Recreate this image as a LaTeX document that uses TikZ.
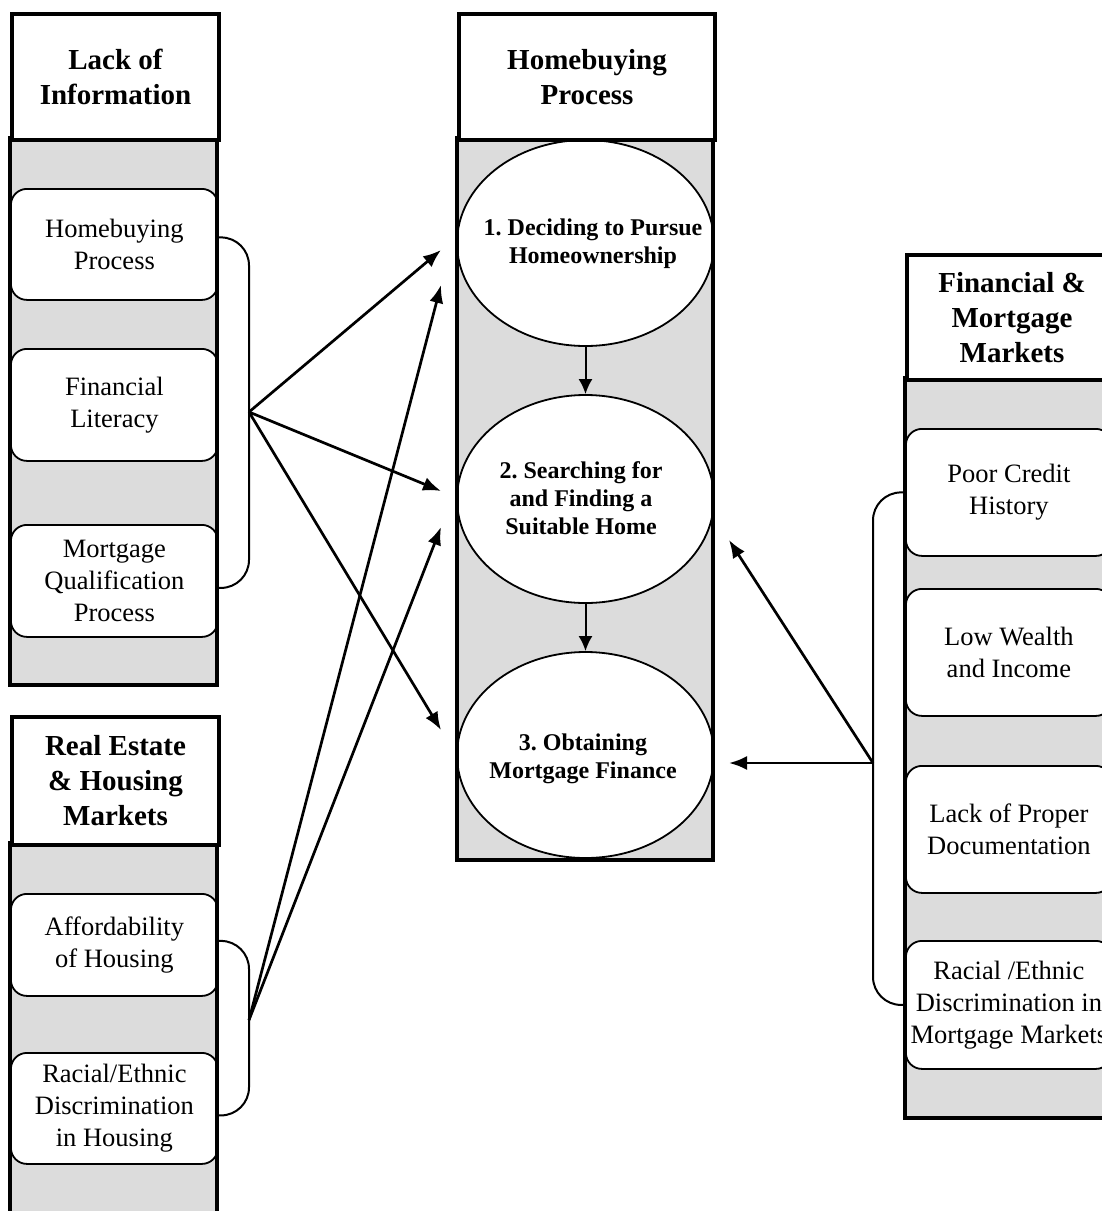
\documentclass[tikz,border=0pt]{standalone}
\usepackage{fontspec}
\setmainfont{Liberation Serif}
\usetikzlibrary{arrows.meta,shapes.geometric,calc}
\definecolor{boxgray}{RGB}{220,220,220}
\frenchspacing
\begin{document}
\begin{tikzpicture}[x=1pt,y=-1pt,
  frame/.style={draw=black, line width=4pt},
  hdr/.style={draw=black, line width=4pt, fill=white, anchor=north west, align=center,
    font=\fontsize{29}{35}\selectfont\bfseries, inner sep=0pt},
  body/.style={fill=boxgray, anchor=north west, inner sep=0pt},
  item/.style={draw=black, line width=1.8pt, fill=white, rounded corners=16pt, anchor=north west,
    align=center, font=\fontsize{26.5}{32}\selectfont, inner sep=0pt},
  stage/.style={ellipse, draw=black, line width=1.8pt, fill=white, inner sep=0pt, minimum width=257pt},
  stagetext/.style={align=center, font=\fontsize{24}{28}\selectfont\bfseries, inner sep=0pt},
  conn/.style={line width=2.7pt, -{Latex[length=18pt,width=14pt]}},
  flow/.style={line width=2pt, -{Latex[length=15pt,width=14pt]}},
  brace/.style={line width=2pt, rounded corners=28pt},
]
\useasboundingbox (0,0) rectangle (1102,1211);
\clip (0,0) rectangle (1102,1211);
\fill[white] (0,0) rectangle (1102,1211);

% ---------- Lack of Information ----------
\node[body, minimum width=207pt, minimum height=547pt] (b1) at (10,138) {};
\node[item, minimum width=207pt, minimum height=111pt] (i11) at (10,188) {Homebuying\\Process};
\node[item, minimum width=207pt, minimum height=112pt] (i12) at (10,348) {Financial\\Literacy};
\node[item, minimum width=207pt, minimum height=112pt] (i13) at (10,524) {Mortgage\\Qualification\\Process};
\draw[frame] (b1.north west) rectangle (b1.south east);
\node[hdr, minimum width=207pt, minimum height=126pt] (h1) at (10,12) {Lack of\\Information};

% ---------- Real Estate & Housing Markets ----------
\node[body, minimum width=207pt, minimum height=400pt] (b3) at (10,843) {};
\node[item, minimum width=207pt, minimum height=102pt] (i31) at (10,893) {Affordability\\of Housing};
\node[item, minimum width=207pt, minimum height=111pt] (i32) at (10,1052) {Racial/Ethnic\\Discrimination\\in Housing};
\draw[frame] (b3.north west) rectangle (b3.south east);
\node[hdr, minimum width=207pt, minimum height=128pt] (h3) at (10,715) {Real Estate\\\& Housing\\Markets};

% ---------- Homebuying Process ----------
\node[body, minimum width=256pt, minimum height=722pt] (b2) at (457,138) {};
\node[stage, minimum height=206pt] (e1) at (585.5,243) {};
\node[stage, minimum height=208pt] (e2) at (585.5,499) {};
\node[stage, minimum height=206pt] (e3) at (585.5,755) {};
\node[stagetext] (e1t) at (593,244) {1. Deciding to Pursue\\Homeownership};
\node[stagetext] (e2t) at (581,498) {2. Searching for\\and Finding a\\Suitable Home};
\node[stagetext] (e3t) at (583,759) {3. Obtaining\\Mortgage Finance};
\draw[frame] (b2.north west) rectangle (b2.south east);
\node[hdr, minimum width=256pt, minimum height=126pt] (h2) at (457,12) {Homebuying\\Process};
\draw[flow] (e1.south) -- (e2.north);
\draw[flow] (e2.south) -- (e3.north);

% ---------- Financial & Mortgage Markets ----------
\node[body, minimum width=210pt, minimum height=740pt] (b4) at (905,378) {};
\node[item, minimum width=206pt, minimum height=127pt] (i41) at (905,428) {Poor Credit\\History};
\node[item, minimum width=206pt, minimum height=127pt] (i42) at (905,588) {Low Wealth\\and Income};
\node[item, minimum width=206pt, minimum height=127pt] (i43) at (905,765) {Lack of Proper\\Documentation};
\node[item, minimum width=206pt, minimum height=128pt] (i44) at (905,940) {Racial /Ethnic\\Discrimination in\\Mortgage Markets};
\draw[frame] (b4.north west) rectangle (b4.south east);
\node[hdr, minimum width=210pt, minimum height=125pt] (h4) at (905,253) {Financial \&\\Mortgage\\Markets};

% ---------- brackets and junctions ----------
\coordinate (j1) at (249,412);
\coordinate (j2) at (249,1020);
\coordinate (j3) at (873,763);
\draw[brace] ($(i11.east)+(0,-7)$) -| (j1 |- {$(i13.east)+(0,7)$}) -- ($(i13.east)+(0,7)$);
\draw[brace] ($(i31.east)+(0,-4)$) -| (j2 |- {$(i32.east)+(0,7)$}) -- ($(i32.east)+(0,7)$);
\draw[brace] (i41.west) -| (j3 |- i44.west) -- (i44.west);

% ---------- arrow tips ----------
\coordinate (t11) at (441,250);
\coordinate (t12) at (441,491);
\coordinate (t13) at (441,730);
\coordinate (t21) at (441,285);
\coordinate (t22) at (441,527);
\coordinate (t31) at (729,540);
\coordinate (t32) at (729,763);

\draw[conn] (j1) -- (t11);
\draw[conn] (j1) -- (t12);
\draw[conn] (j1) -- (t13);
\draw[conn] (j2) -- (t21);
\draw[conn] (j2) -- (t22);
\draw[conn] (j3) -- (t31);
\draw[conn] (j3) -- (t32);
\end{tikzpicture}
\end{document}
